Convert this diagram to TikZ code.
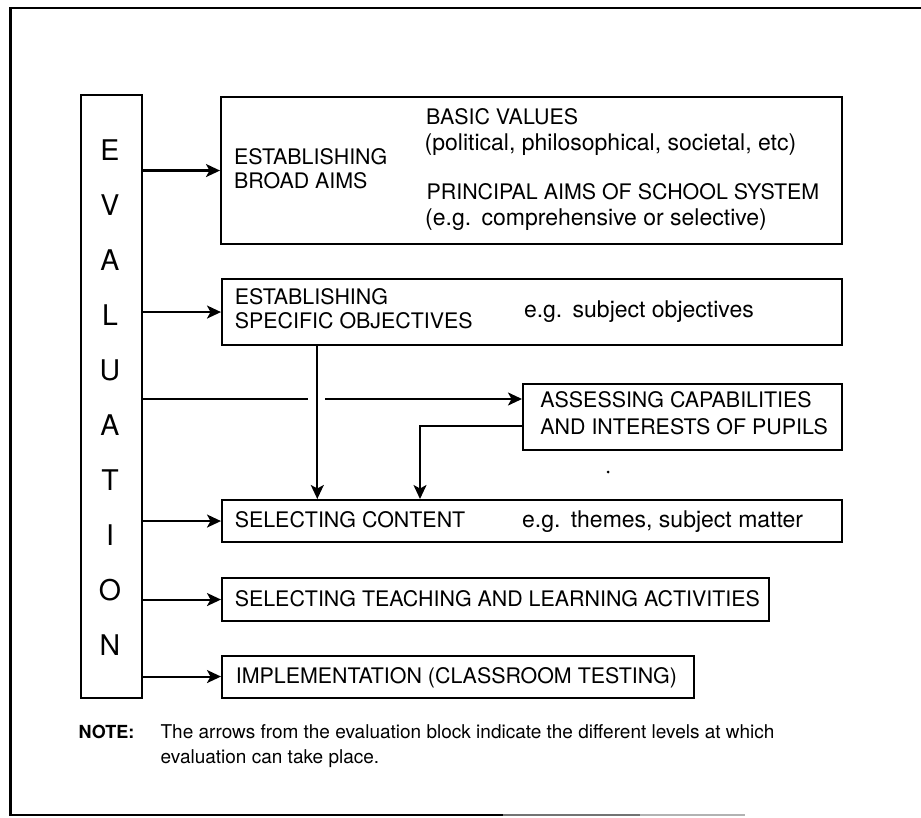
\documentclass[tikz,border=0pt]{standalone}
\usepackage{fontspec}
\setmainfont{TeX Gyre Heros}
\usetikzlibrary{arrows.meta}
\begin{document}
\begin{tikzpicture}[x=1pt,y=-1pt,
  box/.style={draw, line width=2.1pt, inner sep=0pt, anchor=north west},
  caps/.style={font=\fontsize{21.4}{25}\selectfont, anchor=base west, inner sep=0pt},
  lc/.style={font=\fontsize{23}{27}\selectfont, anchor=base west, inner sep=0pt},
  evl/.style={font=\fontsize{28.5}{32}\selectfont, anchor=center, inner sep=0pt},
  notetxt/.style={font=\fontsize{19}{22}\selectfont, anchor=base west, inner sep=0pt},
  arr/.style={line width=2.1pt, -{Stealth[length=14pt,width=13pt,inset=3.5pt]}}
]
\useasboundingbox (0,0) rectangle (921,818);
% outer frame
\draw[line width=2.6pt] (921,8) -- (10.5,8) -- (10.5,815) -- (503,815);
\draw[line width=1.8pt, black!55] (503,815) -- (640,815);
\draw[line width=1.3pt, black!30] (640,815) -- (745,815);

% evaluation block
\node[box, minimum width=61pt, minimum height=603pt] (eval) at (79.5,94) {};
\foreach \L [count=\i from 0] in {E,V,A,L,U,A,T,I,O,N}{
  \node[evl] (ev\i) at (110,150+55.05*\i) {\L};
}

% boxes
\node[box, minimum width=621pt, minimum height=147pt] (b1) at (220,96) {};
\node[box, minimum width=620pt, minimum height=66pt] (b2) at (221,278) {};
\node[box, minimum width=319pt, minimum height=66pt] (b3) at (522,383) {};
\node[box, minimum width=620pt, minimum height=42pt] (b4) at (221,499) {};
\node[box, minimum width=546.5pt, minimum height=43pt] (b5) at (221,577) {};
\node[box, minimum width=471.5pt, minimum height=42pt] (b6) at (221,654.5) {};

% texts in box 1
\node[caps] (t1a) at (234,165) {ESTABLISHING};
\node[caps] (t1b) at (234,189) {BROAD AIMS};
\node[caps] (t1c) at (426,124.4) {BASIC VALUES};
\node[lc] (t1d) at (424.5,151) {(political, philosophical, societal, etc)};
\node[caps] (t1e) at (426.5,200) {PRINCIPAL AIMS OF SCHOOL SYSTEM};
\node[lc] (t1f) at (425,225.6) {(e.g.\hspace{0.45em}comprehensive or selective)};
% box 2
\node[caps] (t2a) at (234.7,305) {ESTABLISHING};
\node[caps] (t2b) at (234.7,328) {SPECIFIC OBJECTIVES};
\node[lc] (t2c) at (523.8,317) {e.g.\hspace{0.45em}subject objectives};
% box 3
\node[caps] (t3a) at (540.2,407.8) {ASSESSING CAPABILITIES};
\node[caps] (t3b) at (540.2,434) {AND INTERESTS OF PUPILS};
% box 4
\node[caps] (t4a) at (234.6,527.6) {SELECTING CONTENT};
\node[lc] (t4b) at (522,527.6) {e.g.\hspace{0.45em}themes, subject matter};
% box 5
\node[caps] (t5a) at (234.6,606.7) {SELECTING TEACHING AND LEARNING ACTIVITIES};
% box 6
\node[caps] (t6a) at (235.6,683.7) {IMPLEMENTATION (CLASSROOM TESTING)};

% arrows from evaluation block
\draw[arr] (eval.east |- b1.west) -- (b1.west);
\draw[arr] (eval.east |- b2.west) -- (b2.west);
\coordinate (gapL) at (308,399);
\coordinate (gapR) at (325,399);
\draw[arr] (eval.east |- gapL) -- (gapL) (gapR) -- (b3.west |- gapR);
\draw[arr] (eval.east |- b4.west) -- (b4.west);
\draw[arr] (eval.east |- b5.west) -- (b5.west);
\draw[arr] (eval.east |- b6.west) -- (b6.west);

% arrows into selecting content
\coordinate (v1) at (317.3,0);
\coordinate (v2) at (420,0);
\coordinate (h2) at (0,426);
\draw[arr] (b2.south -| v1) -- (b4.north -| v1);
\draw[arr] (b3.west |- h2) -| (b4.north -| v2);

% small speck
\fill (608,472) circle (1.5pt);

% note
\node[notetxt, font=\fontsize{18}{22}\selectfont\bfseries] (note) at (78.4,738.7) {NOTE:};
\node[notetxt] (n1) at (160.4,738.7) {The arrows from the evaluation block indicate the different levels at which};
\node[notetxt] (n2) at (160.4,763.6) {evaluation can take place.};
\end{tikzpicture}
\end{document}
